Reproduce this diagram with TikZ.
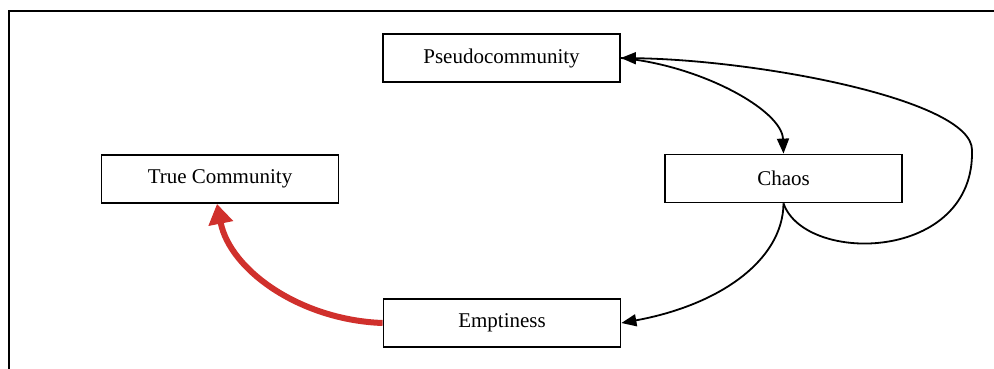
\documentclass[tikz,border=0pt]{standalone}
\usepackage{fontspec}
\setmainfont{Liberation Serif}
\usetikzlibrary{arrows.meta}
\definecolor{redarrow}{RGB}{208,48,44}
\begin{document}
\begin{tikzpicture}[x=1pt,y=-1pt,
  box/.style={draw, line width=1.8pt, minimum width=237pt, minimum height=48pt, inner sep=0pt, font=\fontsize{21}{25}\selectfont, fill=white},
  conn/.style={line width=1.8pt, -{Triangle[length=15pt,width=12pt]}},
  redconn/.style={line width=6pt, draw=redarrow, -{Triangle[length=20pt,width=24pt]}},
  frame/.style={line width=2pt}]
\useasboundingbox (0,0) rectangle (994,369);
% outer frame (top and left edges)
\coordinate (f1) at (994,11);
\coordinate (f2) at (9,11);
\coordinate (f3) at (9,369);
\draw[frame] (f1) -- (f2) -- (f3);
% nodes
\node[box] (pc) at (501.5,58) {Pseudocommunity};
\node[box] (tc) at (220,179) {True Community};
\node[box] (ch) at (783.5,178.5) {Chaos};
\node[box] (em) at (502,323) {Emptiness};
% connectors
\draw[conn] (pc.east) .. controls (700,65) and (782,110) .. (ch.north);
\draw[conn] (ch.south) .. controls (805,265) and (975,262) .. (972,150)
  .. controls (972,100) and (760,60) .. (pc.east);
\draw[conn] (ch.south) .. controls (783,260) and (720,305) .. (em.east);
\draw[redconn] (em.west) .. controls (300,320) and (230,270) .. ([xshift=-3pt]tc.south);
\end{tikzpicture}
\end{document}
